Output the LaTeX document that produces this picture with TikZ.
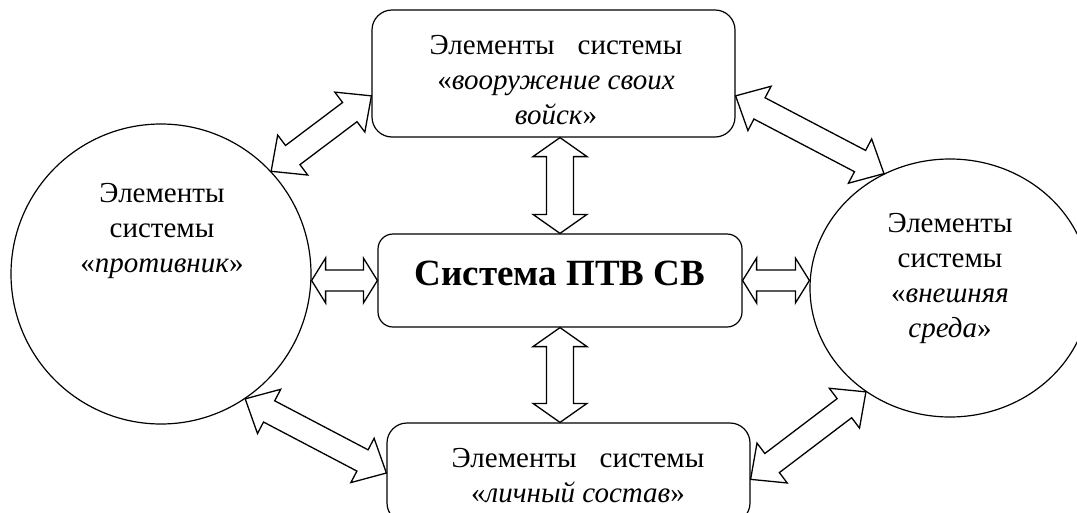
\documentclass[tikz,border=0pt]{standalone}
\usepackage{fontspec}
\setmainfont{Liberation Serif}
\usetikzlibrary{calc,shapes.geometric}

\tikzset{
	box/.style={draw, line width=1.2pt, rounded corners=20pt, minimum width=363pt, minimum height=127pt, inner sep=0pt},
	ring/.style={draw, line width=1.2pt, circle, minimum size=300pt, inner sep=0pt},
	oval/.style={draw, line width=1.2pt, ellipse, minimum width=280pt, minimum height=258pt, inner sep=0pt},
	txt/.style={align=center, inner sep=0pt, font=\fontsize{29pt}{35pt}\selectfont},
	fat/.style={draw, line width=1.3pt, fill=white, line join=miter},
}

% #1, #2: ends; #3: head length; #4: head half width; #5: shaft half width
\newcommand{\dualarrow}[5]{%
	\path[fat] (#1)
	-- ($(#1)!#3!(#2)!#4!90:(#2)$)
	-- ($(#1)!#3!(#2)!#5!90:(#2)$)
	-- ($(#2)!#3!(#1)!#5!-90:(#1)$)
	-- ($(#2)!#3!(#1)!#4!-90:(#1)$)
	-- (#2)
	-- ($(#2)!#3!(#1)!#4!90:(#1)$)
	-- ($(#2)!#3!(#1)!#5!90:(#1)$)
	-- ($(#1)!#3!(#2)!#5!-90:(#2)$)
	-- ($(#1)!#3!(#2)!#4!-90:(#2)$)
	-- cycle;}

\begin{document}
\begin{tikzpicture}[x=1pt, y=-1pt]
	
	\path[use as bounding box, clip] (0, 0) rectangle (1077, 512);
	
	\node[box] (top) at (553.5, 73.5) {};
	\node[box, rounded corners=15pt, minimum width=364pt, minimum height=93pt] (ctr) at (560, 280.5) {};
	\node[box, minimum height=100pt] (bot) at (568.5, 473) {};
	\node[ring] (prot) at (161, 274) {};
	\node[oval] (env) at (950, 288) {};
	
	\node[txt] (topText) at (556, 80) {Элементы\hspace{23pt}системы\\«\textit{вооружение своих}\\\textit{войск}»};
	\node[txt, font=\fontsize{37pt}{44pt}\selectfont\bfseries] (ctrText) at (560, 273) {Система ПТВ СВ};
	\node[txt] (botText) at (578, 475.5) {Элементы\hspace{23pt}системы\\«\textit{личный состав}»};
	\node[txt] (protText) at (162, 231) {Элементы\\системы\\«\textit{противник}»};
	\node[txt] (envText) at (950, 278) {Элементы\\системы\\«\textit{внешняя}\\\textit{среда}»};
	
	\coordinate (protE) at (prot.east |- ctr.west);
	\coordinate (envW) at (env.west |- ctr.east);
	\coordinate (topS) at (ctr.north |- top.south);
	\coordinate (botN) at (ctr.south |- bot.north);
	
	\dualarrow{protE}{ctr.west}{14pt}{22.5pt}{10.5pt}
	\dualarrow{ctr.east}{envW}{14pt}{22.5pt}{10.5pt}
	\dualarrow{topS}{ctr.north}{19pt}{27pt}{13.5pt}
	\dualarrow{ctr.south}{botN}{19pt}{27pt}{13.5pt}
	
	\dualarrow{prot.43}{top.187}{27pt}{25pt}{12pt}
	\dualarrow{top.-7}{env.120}{27pt}{25pt}{12pt}
	\dualarrow{prot.-56}{bot.west}{27pt}{25pt}{12pt}
	\dualarrow{bot.-2}{env.231}{27pt}{25pt}{12pt}
	
\end{tikzpicture}
\end{document}
